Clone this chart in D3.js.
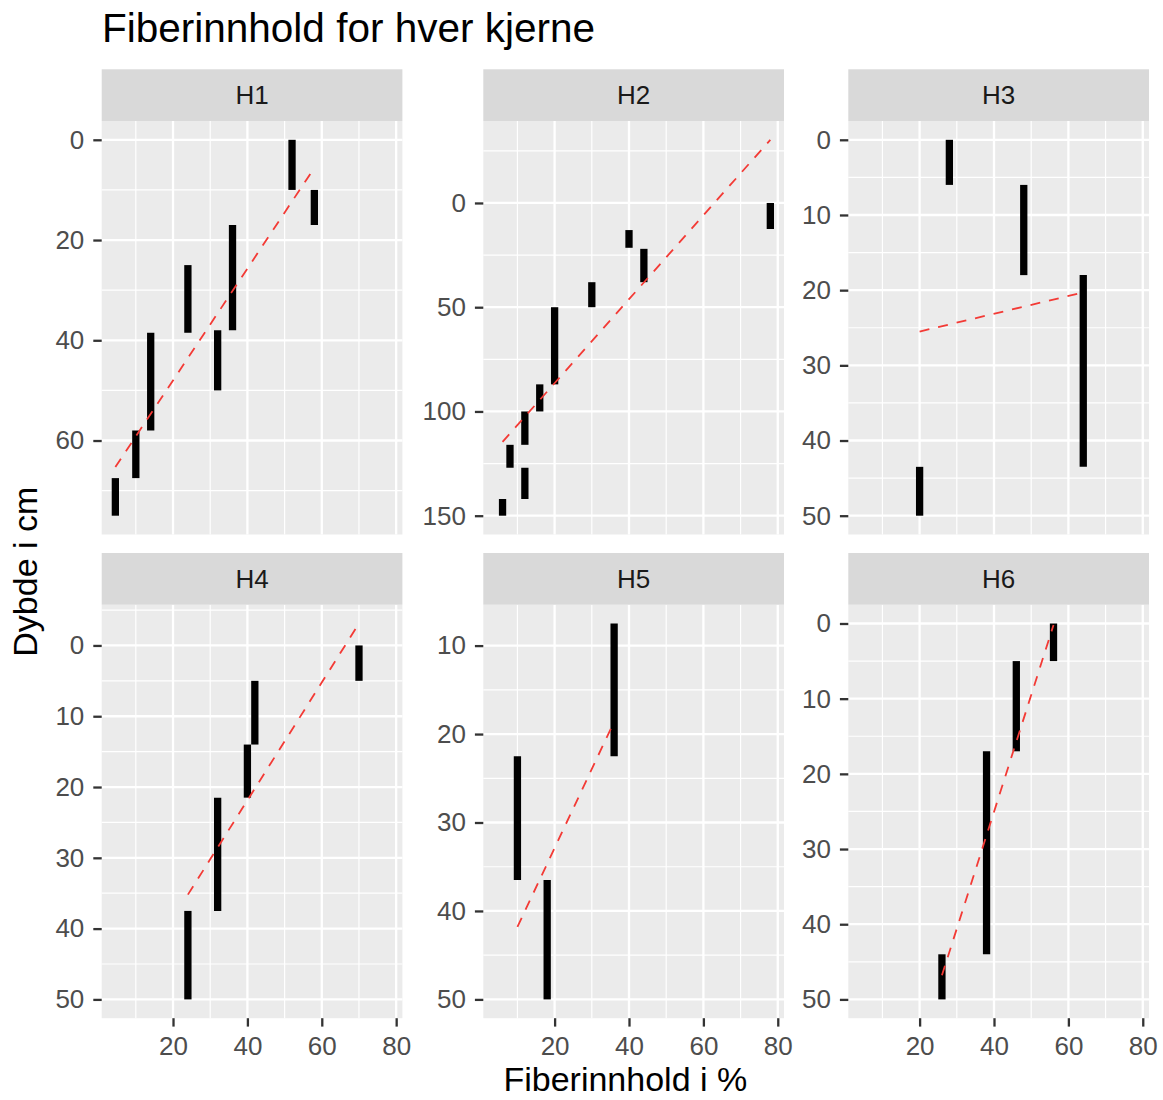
<!DOCTYPE html>
<html>
<head>
<meta charset="utf-8">
<script src="https://cdn.jsdelivr.net/npm/d3@7"></script>
<style>
  body { margin: 0; background: #fff; }
  svg { font-family: "Liberation Sans", Arial, Helvetica, sans-serif; }
</style>
</head>
<body>
<svg id="chart" width="1163" height="1100"></svg>
<script>
// data -------------------------------------------------------------
var cores = ['H1', 'H2', 'H3', 'H4', 'H5', 'H6'];

// fiber content (%) and depth interval (cm) for each sample
var h1Fiber = [52, 58, 36, 24, 32, 14, 10, 4.5],
  h1From = [0, 10, 17, 25, 38, 38.5, 58, 67.5],
  h1To = [10, 17, 38, 38.5, 50, 58, 67.5, 75];

var h2Fiber = [78, 40, 44, 30, 20, 16, 12, 8, 12, 6],
  h2From = [0, 13, 22, 38, 50, 87, 100, 116, 127, 142],
  h2To = [12.5, 21.5, 38, 50, 87, 100, 116, 127, 142, 150];

var h3Fiber = [28, 48, 64, 20],
  h3From = [0, 6, 18, 43.5],
  h3To = [6, 18, 43.5, 50];

var h4Fiber = [70, 42, 40, 32, 24],
  h4From = [0, 5, 14, 21.5, 37.5],
  h4To = [5, 14, 21.5, 37.5, 50];

var h5Fiber = [36, 10, 18],
  h5From = [7.5, 22.5, 36.5],
  h5To = [22.5, 36.5, 50];

var h6Fiber = [56, 46, 38, 26],
  h6From = [0, 5, 17, 44],
  h6To = [5, 17, 44, 50];

// linear trend per core (start/end)
var fitFiberStart = [4.5, 6, 20, 24, 10, 26],
  fitFiberEnd = [58, 78, 64, 70, 36, 56],
  fitDepthStart = [65.3, 114.6, 25.5, 35.2, 41.8, 46.8],
  fitDepthEnd = [5.6, -30.3, 20.3, -3.1, 18.6, 0.2];

var fibers = [h1Fiber, h2Fiber, h3Fiber, h4Fiber, h5Fiber, h6Fiber],
  froms = [h1From, h2From, h3From, h4From, h5From, h6From],
  tos = [h1To, h2To, h3To, h4To, h5To, h6To];

var panels = cores.map(function (name, i) {
  return {
    name: name,
    samples: fibers[i].map(function (f, j) {
      return { fiber: f, from: froms[i][j], to: tos[i][j] };
    }),
    fit: [
      { fiber: fitFiberStart[i], depth: fitDepthStart[i] },
      { fiber: fitFiberEnd[i], depth: fitDepthEnd[i] }
    ]
  };
});

// layout -----------------------------------------------------------
var colLeft = [101.7, 483.3, 848.3],
  rowTop = [121, 604.7],
  panelW = 300.7,
  panelH = 413.5,
  stripH = 51.7,
  tickLen = 8.4;

function expand(ext) {
  var pad = (ext[1] - ext[0]) * 0.05;
  return [ext[0] - pad, ext[1] + pad];
}

var svg = d3.select('#chart');

// shared x scale
var allX = [];
panels.forEach(function (p) {
  p.samples.forEach(function (s) { allX.push(s.fiber); });
  p.fit.forEach(function (f) { allX.push(f.fiber); });
});
var xDomain = expand(d3.extent(allX));

function minorTicks(ticks, domain) {
  var step = ticks[1] - ticks[0],
    out = ticks.map(function (t) { return t - step / 2; });
  out.push(ticks[ticks.length - 1] + step / 2);
  return out.filter(function (t) { return t > domain[0] && t < domain[1]; });
}

// Panels ------------------------ //
panels.forEach(function (p, i) {
  var col = i % 3,
    row = Math.floor(i / 3),
    left = colLeft[col],
    top = rowTop[row];

  var x = d3.scaleLinear().domain(xDomain).range([0, panelW]);

  var depths = [];
  p.samples.forEach(function (s) { depths.push(s.from, s.to); });
  p.fit.forEach(function (f) { depths.push(f.depth); });
  var yDomain = expand(d3.extent(depths));
  var y = d3.scaleLinear().domain(yDomain).range([0, panelH]);

  var g = svg.append('g').attr('transform', `translate(${left},${top})`);

  g.append('rect')
    .attr('width', panelW)
    .attr('height', panelH)
    .attr('fill', '#ebebeb');

  var xTicks = x.ticks(5),
    yTicks = y.ticks(5);

  // minor grid
  g.selectAll('.xminor')
    .data(minorTicks(xTicks, xDomain))
    .enter().append('line')
    .attr('x1', x).attr('x2', x)
    .attr('y1', 0).attr('y2', panelH)
    .attr('stroke', '#fff').attr('stroke-width', 1.2);
  g.selectAll('.yminor')
    .data(minorTicks(yTicks, yDomain))
    .enter().append('line')
    .attr('y1', y).attr('y2', y)
    .attr('x1', 0).attr('x2', panelW)
    .attr('stroke', '#fff').attr('stroke-width', 1.2);

  // major grid
  g.selectAll('.xmajor')
    .data(xTicks)
    .enter().append('line')
    .attr('x1', x).attr('x2', x)
    .attr('y1', 0).attr('y2', panelH)
    .attr('stroke', '#fff').attr('stroke-width', 2.3);
  g.selectAll('.ymajor')
    .data(yTicks)
    .enter().append('line')
    .attr('y1', y).attr('y2', y)
    .attr('x1', 0).attr('x2', panelW)
    .attr('stroke', '#fff').attr('stroke-width', 2.3);

  // sample segments
  g.selectAll('.seg')
    .data(p.samples)
    .enter().append('line')
    .attr('x1', function (d) { return x(d.fiber); })
    .attr('x2', function (d) { return x(d.fiber); })
    .attr('y1', function (d) { return y(d.from); })
    .attr('y2', function (d) { return y(d.to); })
    .attr('stroke', '#000')
    .attr('stroke-width', 7.3)
    .attr('stroke-linecap', 'butt');

  // trend line
  g.append('path')
    .datum(p.fit)
    .attr('d', d3.line()
      .x(function (d) { return x(d.fiber); })
      .y(function (d) { return y(d.depth); }))
    .attr('fill', 'none')
    .attr('stroke', '#f33a35')
    .attr('stroke-width', 1.8)
    .attr('stroke-dasharray', '10,9');

  // strip
  g.append('rect')
    .attr('y', -stripH)
    .attr('width', panelW)
    .attr('height', stripH)
    .attr('fill', '#d9d9d9');
  g.append('text')
    .attr('x', panelW / 2)
    .attr('y', -stripH / 2)
    .attr('dy', '0.35em')
    .attr('text-anchor', 'middle')
    .style('font-size', '26px')
    .attr('fill', '#1a1a1a')
    .text(p.name);

  // y axis
  var yAxis = g.append('g')
    .call(d3.axisLeft(y).tickValues(yTicks).tickSize(tickLen).tickPadding(9));
  styleAxis(yAxis);

  // x axis, bottom row only
  if (row === 1) {
    var xAxis = g.append('g')
      .attr('transform', `translate(0,${panelH})`)
      .call(d3.axisBottom(x).tickValues(xTicks).tickSize(tickLen).tickPadding(10));
    styleAxis(xAxis);
  }
});

function styleAxis(a) {
  a.select('.domain').remove();
  a.selectAll('.tick line').attr('stroke', '#333').attr('stroke-width', 2.3);
  a.selectAll('.tick text')
    .attr('fill', '#4d4d4d')
    .style('font-size', '26px')
    .style('font-family', '"Liberation Sans", Arial, Helvetica, sans-serif');
}

// Titles ------------------------ //
svg.append('text')
  .attr('x', 102)
  .attr('y', 42)
  .style('font-size', '40.5px')
  .attr('fill', '#000')
  .text('Fiberinnhold for hver kjerne');

svg.append('text')
  .attr('x', (colLeft[0] + colLeft[2] + panelW) / 2)
  .attr('y', 1091)
  .attr('text-anchor', 'middle')
  .style('font-size', '34px')
  .attr('fill', '#000')
  .text('Fiberinnhold i %');

svg.append('text')
  .attr('transform', 'translate(37,571.7) rotate(-90)')
  .attr('text-anchor', 'middle')
  .style('font-size', '34px')
  .attr('fill', '#000')
  .text('Dybde i cm');
</script>
</body>
</html>
